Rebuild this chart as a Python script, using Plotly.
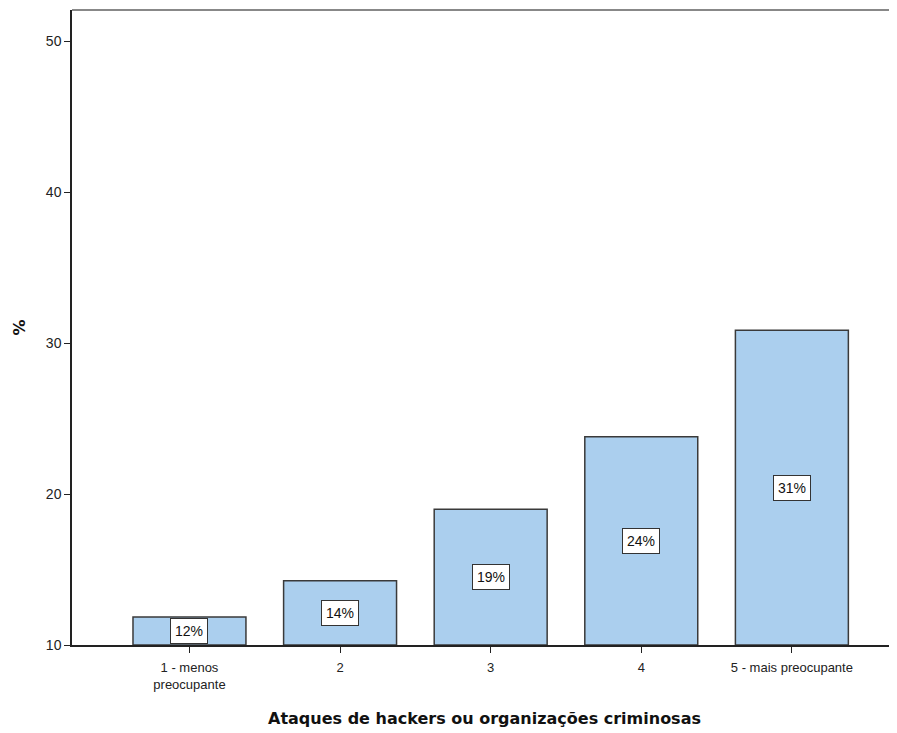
import plotly.graph_objects as go

categories = ["1 - menos<br>preocupante", "2", "3", "4", "5 - mais preocupante"]
values = [11.85, 14.25, 19.0, 23.8, 30.85]
labels = ["12%", "14%", "19%", "24%", "31%"]
y_ticks = [10, 20, 30, 40, 50]

x_pos = list(range(len(categories)))

fig = go.Figure(
    go.Bar(
        x=x_pos,
        y=[v - 10 for v in values],
        base=10,
        width=0.75,
        marker=dict(color="#abcfee", line=dict(color="#3a3a3a", width=1.5)),
        hoverinfo="skip",
    )
)

# value labels in white boxes at the middle of each bar
for xp, v, lab in zip(x_pos, values, labels):
    fig.add_annotation(
        x=xp, y=(10 + v) / 2, text=lab, showarrow=False,
        font=dict(family="Liberation Sans, Arial", size=14, color="#111"),
        bgcolor="white", bordercolor="#333", borderwidth=1, borderpad=4,
    )

# gray frame line on top
fig.add_shape(type="line", xref="paper", yref="paper", x0=0, x1=1, y0=1, y1=1,
              line=dict(color="#888", width=2))

# page has an 8px body margin, so the figure is a bit smaller than the window
fig.update_layout(
    width=889, height=725,
    margin=dict(l=64, r=0, t=2, b=88),
    paper_bgcolor="white", plot_bgcolor="white",
    showlegend=False,
    font=dict(family="Liberation Sans, Arial", size=12, color="#222"),
    xaxis=dict(
        range=[-0.78, 4.698],
        tickvals=x_pos, ticktext=categories,
        ticks="outside", ticklen=6, tickcolor="#222",
        ticklabelstandoff=4,
        showline=True, linecolor="#222", linewidth=1.5,
        showgrid=False, zeroline=False,
        tickfont=dict(size=13, color="#222"),
        title=dict(text="Ataques de hackers ou organizações criminosas",
                   font=dict(family="DejaVu Sans", size=16, color="#111", weight="bold"),
                   standoff=22),
    ),
    yaxis=dict(
        range=[10, 52.08],
        tickvals=y_ticks,
        ticks="outside", ticklen=6, tickcolor="#222",
        showline=True, linecolor="#222", linewidth=1.5,
        showgrid=False, zeroline=False,
        tickfont=dict(size=14, color="#222"),
        title=dict(text="%", font=dict(family="DejaVu Sans", size=16, color="#111", weight="bold"),
                   standoff=16),
    ),
)

fig.write_html("out.html")
